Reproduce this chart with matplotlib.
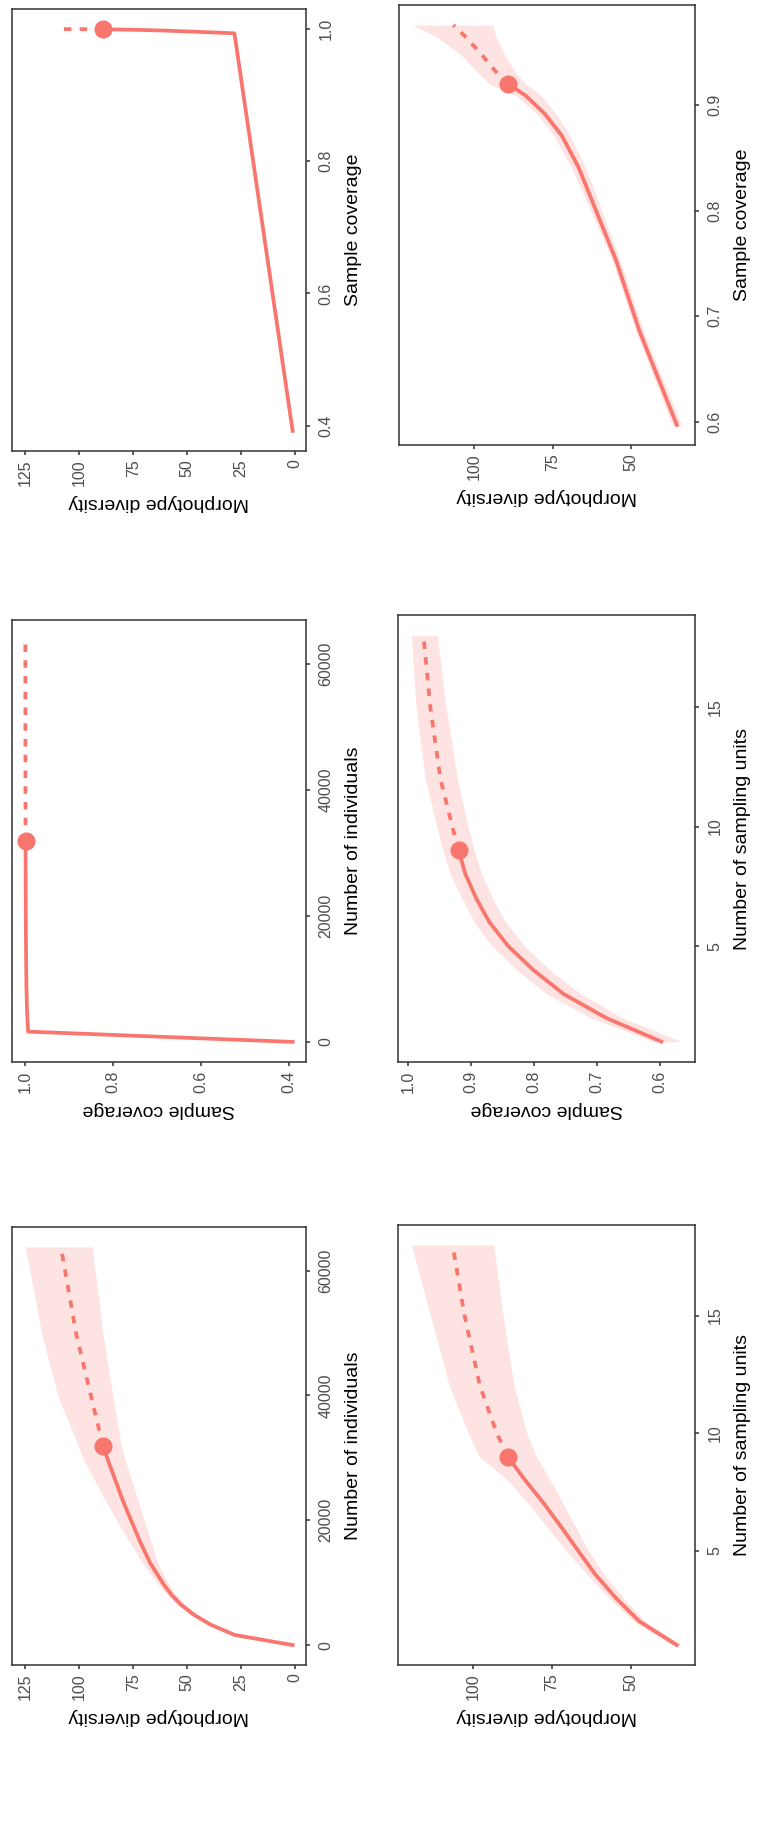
import matplotlib
matplotlib.use("Agg")
import matplotlib.pyplot as plt

plt.rcParams['font.family'] = ['Liberation Sans', 'DejaVu Sans']

RED = "#F8766D"

# individual-based data (number of individuals)
m_ind = [1, 1636, 3272, 4908, 6544, 8180, 9816, 13088, 16360, 19632, 22904,
         26176, 29448, 31900, 40000, 50000, 63800]
div_ind = [1, 28, 39, 47, 53, 57.5, 61, 67, 71.5, 75.5, 79.5, 83, 86.5, 89,
           94.6, 101.5, 108.5]
div_ind_lo = [1, 27.5, 37.5, 45.5, 51, 55.5, 58.5, 63.5, 66.5, 69.5, 72.5,
              75.5, 78.5, 80.5, 84.5, 89, 94]
div_ind_hi = [1, 28.5, 40.5, 48.5, 55, 59.5, 63.5, 70.5, 76.5, 82, 87.5,
              92.5, 97.5, 100.5, 110, 117.5, 125]
cov_ind = [0.392, 0.9935, 0.995, 0.996, 0.9967, 0.9973, 0.9977, 0.9982,
           0.9986, 0.9989, 0.9991, 0.9993, 0.9994, 0.9995, 0.9997, 0.9998,
           0.9999]
obs_ind = 13

# sample-based data (number of sampling units)
t_smp = [1, 2, 3, 4, 5, 6, 7, 8, 9, 10, 12, 15, 18]
div_smp = [35.5, 47.3, 54.8, 61.3, 66.7, 72.0, 77.5, 83.5, 89.0, 92.5, 97.8,
           102.7, 106.5]
div_smp_lo = [34.0, 45.5, 52.5, 58.5, 63.5, 67.5, 71.5, 75.5, 80, 83, 87,
              90.5, 93.5]
div_smp_hi = [37.0, 49.0, 57.0, 64.0, 70.5, 76.5, 82.5, 89.0, 98, 101.5,
              107.5, 113.5, 119.5]
div_cov_lo = [34.0, 46.0, 53.5, 59.5, 64.5, 69.5, 74.0, 78.5, 83.5, 86.5,
              90.5, 93, 94]
div_cov_hi = [37.0, 48.5, 56.0, 63.0, 69.0, 74.5, 80.0, 86.5, 95, 98.5,
              104.5, 112, 119.5]
cov_smp = [0.597, 0.6855, 0.753, 0.801, 0.841, 0.871, 0.892, 0.909, 0.92,
           0.930, 0.949, 0.965, 0.976]
cov_smp_lo = [0.565, 0.66, 0.725, 0.775, 0.815, 0.845, 0.866, 0.883, 0.895,
              0.905, 0.922, 0.94, 0.954]
cov_smp_hi = [0.61, 0.71, 0.78, 0.827, 0.867, 0.895, 0.915, 0.933, 0.945,
              0.955, 0.973, 0.988, 0.995]
obs_smp = 8

div_ticks = [0, 25, 50, 75, 100, 125]
div_ticks_smp = [50, 75, 100]
cov_ticks = [0.4, 0.6, 0.8, 1.0]
cov_ticks_smp = [0.6, 0.7, 0.8, 0.9, 1.0]
cov_ticks_p2 = [0.6, 0.7, 0.8, 0.9]
ind_ticks = [0, 20000, 40000, 60000]
smp_ticks = [5, 10, 15]

W, H = 765, 1828
fig = plt.figure(figsize=(W / 100, H / 100), dpi=100)


def expand(vals):
    a, z = min(vals), max(vals)
    pad = (z - a) * 0.05
    return a - pad, z + pad


def fmt(v):
    if isinstance(v, float):
        return "%.1f" % v
    return str(v)


def panel(box, h, v, obs, hticks, vticks, hlabel, vlabel, lo=None, hi=None):
    l, t, r, b = box
    ax = fig.add_axes([l / W, 1 - b / H, (r - l) / W, (b - t) / H])
    hvals = list(h)
    if lo is not None:
        ax.fill_betweenx(v, lo, hi, color=RED, alpha=0.2, lw=0)
        hvals += list(lo) + list(hi)
    ax.plot(h[:obs + 1], v[:obs + 1], color=RED, lw=2.7)
    ax.plot(h[obs:], v[obs:], color=RED, lw=2.7, dashes=(2.0, 2.2))
    ax.plot(h[obs], v[obs], 'o', color=RED, ms=12)

    a, z = expand(hvals)
    ax.set_xlim(z, a)
    ax.set_ylim(*expand(v))

    ax.set_xticks(hticks, labels=[fmt(x) for x in hticks])
    ax.set_yticks(vticks, labels=[fmt(x) for x in vticks])
    ax.yaxis.tick_right()
    ax.tick_params(colors='#333333', length=3, width=1.1, labelsize=11.5,
                   labelcolor='#4D4D4D')
    ax.tick_params(axis='x', labelrotation=90, pad=3)
    ax.tick_params(axis='y', labelrotation=90, pad=6)
    for lab in ax.get_yticklabels():
        lab.set_va('center')
    for sp in ax.spines.values():
        sp.set_color('#333333')
        sp.set_linewidth(1.1)

    ax.set_xlabel(hlabel, rotation=180, fontsize=14, labelpad=6)
    ax.set_ylabel(vlabel, fontsize=14, labelpad=8)
    ax.yaxis.set_label_position('right')
    return ax


# left column: individual-based
panel((12, 9, 306, 451), div_ind, cov_ind, obs_ind, div_ticks, cov_ticks,
      "Morphotype diversity", "Sample coverage", div_ind_lo, div_ind_hi)
panel((12, 620, 306, 1062), cov_ind, m_ind, obs_ind, cov_ticks, ind_ticks,
      "Sample coverage", "Number of individuals")
panel((12, 1227, 306, 1665), div_ind, m_ind, obs_ind, div_ticks, ind_ticks,
      "Morphotype diversity", "Number of individuals", div_ind_lo, div_ind_hi)

# right column: sample-based
panel((399, 5, 695, 445), div_smp, cov_smp, obs_smp, div_ticks_smp,
      cov_ticks_p2, "Morphotype diversity", "Sample coverage",
      div_cov_lo, div_cov_hi)
panel((398, 615, 695, 1062), cov_smp, t_smp, obs_smp, cov_ticks_smp,
      smp_ticks, "Sample coverage", "Number of sampling units",
      cov_smp_lo, cov_smp_hi)
panel((398, 1225, 695, 1665), div_smp, t_smp, obs_smp, div_ticks_smp,
      smp_ticks, "Morphotype diversity", "Number of sampling units",
      div_smp_lo, div_smp_hi)

fig.savefig("out.png", dpi=100)
